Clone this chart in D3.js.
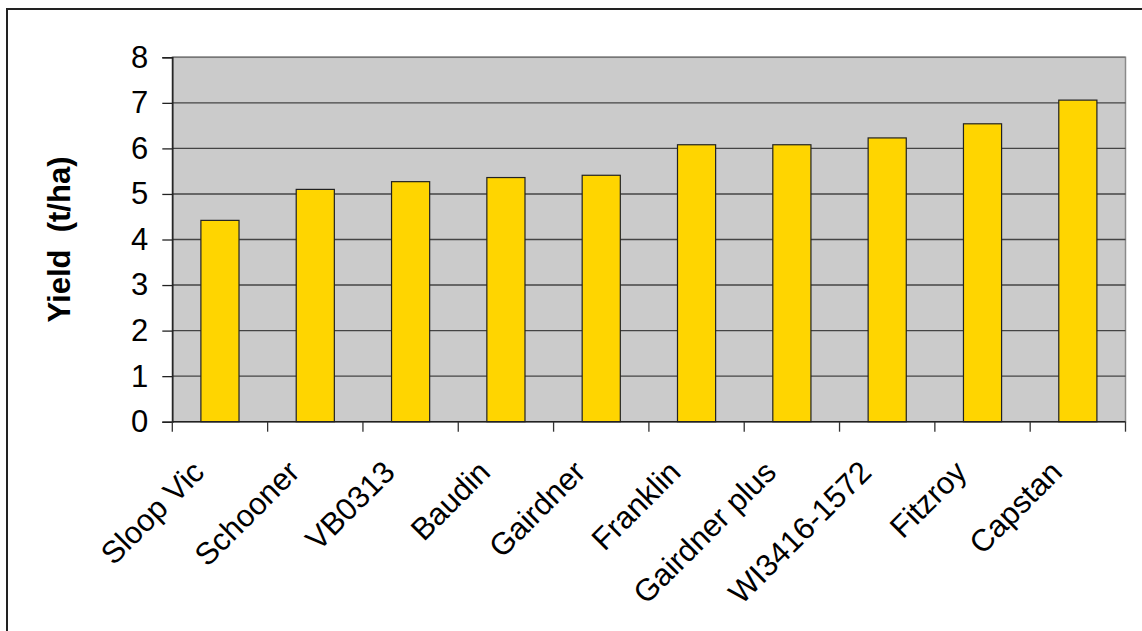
<html><head>
<meta charset="UTF-8">
<title>Yield by variety</title>
<style>
  body { margin: 0; padding: 0; background: #fff; overflow: hidden; }
  svg { display: block; font-family: "Liberation Sans", Arial, sans-serif; }
</style>
</head>
<body>
<div id="chart"></div>
<script src="https://d3js.org/d3.v7.min.js"></script>
<script>
  const varieties = ["Sloop Vic", "Schooner", "VB0313", "Baudin", "Gairdner", "Franklin",
                     "Gairdner plus", "WI3416-1572", "Fitzroy", "Capstan"];
  const yields = [4.42, 5.10, 5.27, 5.36, 5.41, 6.08, 6.08, 6.23, 6.54, 7.06];
  const yTicks = [0, 1, 2, 3, 4, 5, 6, 7, 8];

  const width = 1142, height = 631;
  const plot = { left: 172.3, top: 57.3, right: 1125.5, bottom: 421.7 };
  const fontSize = 31;

  const svg = d3.select("#chart").append("svg")
    .attr("width", width)
    .attr("height", height);

  // outer chart frame (runs off the right and bottom edge)
  svg.append("rect")
    .attr("x", 7).attr("y", 9)
    .attr("width", 1300).attr("height", 800)
    .attr("fill", "#fff")
    .attr("stroke", "#222")
    .attr("stroke-width", 2);

  const x = d3.scaleBand()
    .domain(varieties)
    .range([plot.left, plot.right])
    .paddingInner(0.6)
    .paddingOuter(0.3);

  const y = d3.scaleLinear()
    .domain([0, 8])
    .range([plot.bottom, plot.top]);

  // plot background
  svg.append("rect")
    .attr("x", plot.left).attr("y", plot.top)
    .attr("width", plot.right - plot.left)
    .attr("height", plot.bottom - plot.top)
    .attr("fill", "#cbcbcb")
    .attr("stroke", "#8a8a8a")
    .attr("stroke-width", 1.5);

  // gridlines
  svg.append("g")
    .selectAll("line")
    .data(yTicks.filter(d => d > 0))
    .enter().append("line")
    .attr("x1", plot.left).attr("x2", plot.right)
    .attr("y1", d => y(d)).attr("y2", d => y(d))
    .attr("stroke", d => d === 8 ? "#777" : "#444")
    .attr("stroke-width", 1.4);

  // bars
  svg.append("g")
    .selectAll("rect")
    .data(varieties)
    .enter().append("rect")
    .attr("x", d => x(d))
    .attr("y", (d, i) => y(yields[i]))
    .attr("width", x.bandwidth())
    .attr("height", (d, i) => y(0) - y(yields[i]))
    .attr("fill", "#ffd500")
    .attr("stroke", "#222")
    .attr("stroke-width", 1.2);

  // y axis
  const yAxis = svg.append("g")
    .attr("transform", `translate(${plot.left},0)`)
    .call(d3.axisLeft(y).tickValues(yTicks).tickSize(10).tickPadding(14));
  yAxis.select(".domain").attr("stroke", "#222").attr("stroke-width", 1.5);
  yAxis.selectAll(".tick line").attr("stroke", "#222").attr("stroke-width", 1.3);
  yAxis.selectAll(".tick text")
    .attr("font-size", fontSize)
    .attr("fill", "#000")
    .attr("font-family", "Liberation Sans, Arial, sans-serif");

  // x axis with ticks between categories
  const boundaries = d3.range(varieties.length + 1).map(i => plot.left + i * (plot.right - plot.left) / varieties.length);
  svg.append("line")
    .attr("x1", plot.left).attr("x2", plot.right)
    .attr("y1", plot.bottom).attr("y2", plot.bottom)
    .attr("stroke", "#222").attr("stroke-width", 1.5);
  svg.append("g")
    .selectAll("line")
    .data(boundaries)
    .enter().append("line")
    .attr("x1", d => d).attr("x2", d => d)
    .attr("y1", plot.bottom).attr("y2", plot.bottom + 10)
    .attr("stroke", "#333").attr("stroke-width", 1.3);

  svg.append("g")
    .selectAll("text")
    .data(varieties)
    .enter().append("text")
    .attr("transform", d => `translate(${x(d) + x.bandwidth() / 2 - 14},474) rotate(-45)`)
    .attr("text-anchor", "end")
    .attr("font-size", fontSize)
    .attr("fill", "#000")
    .text(d => d);

  // y axis title
  svg.append("text")
    .attr("transform", `translate(70,${(plot.top + plot.bottom) / 2}) rotate(-90)`)
    .attr("text-anchor", "middle")
    .attr("font-size", fontSize)
    .attr("font-weight", "bold")
    .attr("fill", "#000")
    .attr("xml:space", "preserve")
    .text("Yield  (t/ha)");
</script>
</body></html>
